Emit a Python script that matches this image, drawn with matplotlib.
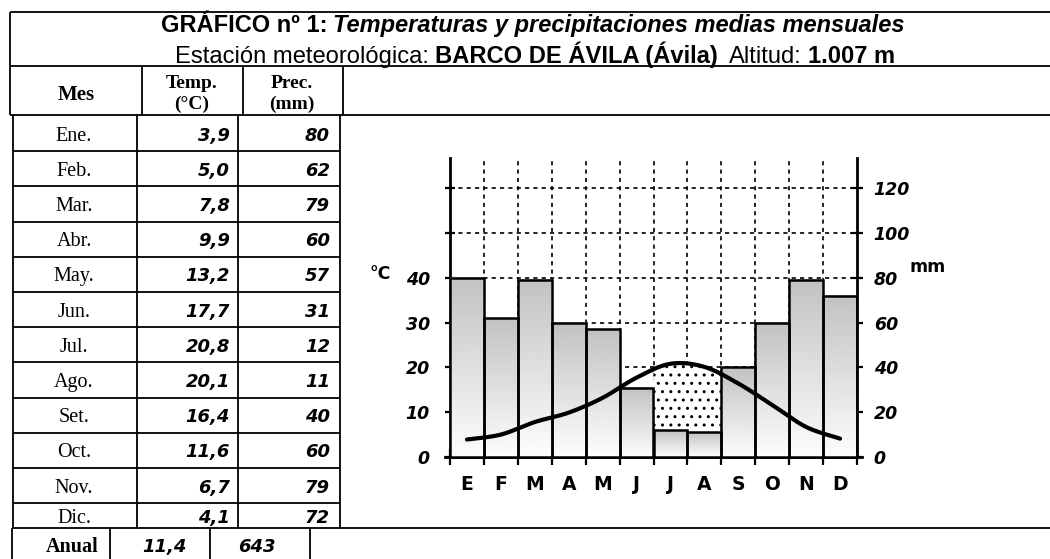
import numpy as np
import matplotlib
matplotlib.use("Agg")
import matplotlib.pyplot as plt
from matplotlib import font_manager

# data
month_names = ["Ene.", "Feb.", "Mar.", "Abr.", "May.", "Jun.",
               "Jul.", "Ago.", "Set.", "Oct.", "Nov.", "Dic."]
month_letters = ["E", "F", "M", "A", "M", "J", "J", "A", "S", "O", "N", "D"]
temp = [3.9, 5.0, 7.8, 9.9, 13.2, 17.7, 20.8, 20.1, 16.4, 11.6, 6.7, 4.1]
prec = [80, 62, 79, 60, 57, 31, 12, 11, 40, 60, 79, 72]
annual_temp = "11,4"
annual_prec = "643"
dry_months = [6, 7]  # dotted (arid) period: Jul, Aug
temp_ticks = [0, 10, 20, 30, 40, 50, 60]
temp_labels = ["0", "10", "20", "30", "40", "", ""]
prec_ticks = [0, 20, 40, 60, 80, 100, 120]

P_PER_C = 2  # Gaussen: 1 degC = 2 mm

title_pieces = [("GRÁFICO nº 1: ", "bold", "normal"),
                ("Temperaturas y precipitaciones medias mensuales", "bold", "italic")]
subtitle_pieces = [("Estación meteorológica: ", "normal", "normal"),
                   ("BARCO DE ÁVILA (Ávila)", "bold", "normal"),
                   ("  Altitud: ", "normal", "normal"),
                   ("1.007 m", "bold", "normal")]

W, H = 1050, 559
fig = plt.figure(figsize=(W / 100, H / 100), dpi=100)
bg = fig.add_axes([0, 0, 1, 1])
bg.set_xlim(0, W)
bg.set_ylim(H, 0)
bg.axis("off")
renderer = fig.canvas.get_renderer()

names = {f.name for f in font_manager.fontManager.ttflist}
TITLE_FONT = "Liberation Sans Narrow" if "Liberation Sans Narrow" in names else "Liberation Sans"
SERIF = "Liberation Serif"
SANS = "DejaVu Sans"
LW = 1.3


def hline(y, x0, x1, lw=LW):
    bg.plot([x0, x1], [y, y], color="black", lw=lw, solid_capstyle="butt")


def vline(x, y0, y1, lw=LW):
    bg.plot([x, x], [y0, y1], color="black", lw=lw, solid_capstyle="butt")


def rich_line(y, pieces, cx, width):
    def place(fs):
        arts, ws = [], []
        space = 0.25 * fs * 100 / 72
        for txt, wt, st in pieces:
            lead = (len(txt) - len(txt.lstrip())) * space
            trail = (len(txt) - len(txt.rstrip())) * space
            a = bg.text(0, y, txt.strip(), fontsize=fs, fontweight=wt, fontstyle=st,
                        family=TITLE_FONT, ha="left", va="baseline")
            w = a.get_window_extent(renderer).width
            arts.append((a, lead))
            ws.append(lead + w + trail)
        return arts, ws

    arts, ws = place(10)
    fs = 10 * width / sum(ws)
    for a, _ in arts:
        a.remove()
    arts, ws = place(fs)
    x = cx - sum(ws) / 2
    for (a, lead), w in zip(arts, ws):
        a.set_x(x + lead)
        x += w


# title block
hline(12, 10, W)
hline(66, 10, W)
hline(115, 10, W)
vline(10, 12, 115)
rich_line(32, title_pieces, 533, 747)
rich_line(63, subtitle_pieces, 535, 720)

# header row
for x in [142, 243, 343]:
    vline(x, 66, 115)
bg.text(76, 100, "Mes", family=SERIF, fontweight="bold", fontsize=15, ha="center", va="baseline")
bg.text(192, 88, "Temp.", family=SERIF, fontweight="bold", fontsize=14, ha="center", va="baseline")
bg.text(192, 109, "(°C)", family=SERIF, fontweight="bold", fontsize=14, ha="center", va="baseline")
bg.text(292, 88, "Prec.", family=SERIF, fontweight="bold", fontsize=14, ha="center", va="baseline")
bg.text(292, 109, "(mm)", family=SERIF, fontweight="bold", fontsize=14, ha="center", va="baseline")

# monthly table
row_edges = [116 + 35.2 * i for i in range(12)] + [528]
for x in [13, 137, 238, 340]:
    vline(x, 115, 528)
for y in row_edges[1:-1]:
    hline(y, 13, 340)
for i, name in enumerate(month_names):
    yc = (row_edges[i] + row_edges[i + 1]) / 2 + 7
    bg.text(74, yc, name, family=SERIF, fontsize=14.5, ha="center", va="baseline")
    bg.text(230, yc, f"{temp[i]:.1f}".replace(".", ","), family=SANS, fontweight="bold",
            fontstyle="italic", fontsize=13, ha="right", va="baseline")
    bg.text(330, yc, str(prec[i]), family=SANS, fontweight="bold",
            fontstyle="italic", fontsize=13, ha="right", va="baseline")

# annual row
hline(528, 12, W)
for x in [12, 110, 210, 310]:
    vline(x, 528, H)
bg.text(72, 552, "Anual", family=SERIF, fontweight="bold", fontsize=14.5, ha="center", va="baseline")
bg.text(164, 552, annual_temp, family=SANS, fontweight="bold", fontstyle="italic",
        fontsize=13, ha="center", va="baseline")
bg.text(257, 552, annual_prec, family=SANS, fontweight="bold", fontstyle="italic",
        fontsize=13, ha="center", va="baseline")

# climograph
ax = fig.add_axes([450 / W, (H - 457) / H, 407 / W, (457 - 158) / H])
ax2 = ax.twinx()
ax.patch.set_visible(False)

for v in range(1, 12):
    ax.axvline(v, color="black", lw=1.2, ls=(0, (2.5, 2.5)), zorder=0)
for h in temp_ticks[1:]:
    ax.axhline(h, color="black", lw=1.2, ls=(0, (2.5, 2.5)), zorder=0)

xc = np.arange(12) + 0.5
bars = ax2.bar(xc, prec, width=1.0, facecolor="none", edgecolor="black", lw=1.8, zorder=3)
grad = np.linspace(0.76, 0.99, 128)[:, None]
for b, p in zip(bars, prec):
    x0 = b.get_x()
    ax2.imshow(grad, extent=(x0, x0 + 1, 0, p), aspect="auto", cmap="gray",
               vmin=0, vmax=1, zorder=2, origin="upper")


def catmull_rom(xp, yp, n=60):
    P = np.column_stack([xp, yp])
    P = np.vstack([P[0], P, P[-1]])
    out = []
    t = np.linspace(0, 1, n, endpoint=False)[:, None]
    for i in range(1, len(P) - 2):
        p0, p1, p2, p3 = P[i - 1], P[i], P[i + 1], P[i + 2]
        out.append(0.5 * (2 * p1 + (-p0 + p2) * t + (2 * p0 - 5 * p1 + 4 * p2 - p3) * t ** 2
                          + (-p0 + 3 * p1 - 3 * p2 + p3) * t ** 3))
    out.append(P[-2][None, :])
    return np.vstack(out)


curve = catmull_rom(xc, temp)
cx, cy = curve[:, 0], curve[:, 1]
idx = np.clip(np.floor(cx).astype(int), 0, 11)
bar_top = np.array(prec, dtype=float)[idx]
mask = np.isin(idx, dry_months) & (cy * P_PER_C > bar_top)
ax2.fill_between(cx, bar_top, cy * P_PER_C, where=mask, interpolate=True,
                 facecolor="white", edgecolor="black", hatch="..", lw=0, zorder=2.5)
ax2.plot(cx, cy, color="black", lw=3, transform=ax.transData, zorder=4,
         solid_capstyle="round")

ax.set_xlim(0, 12)
ax.set_ylim(0, 66.7)
ax2.set_xlim(0, 12)
ax2.set_ylim(0, 66.7 * P_PER_C)

ax.plot([-0.15, 12.15], [0, 0], color="black", lw=2, clip_on=False, zorder=5)

for s in ["top", "right"]:
    ax.spines[s].set_visible(False)
ax2.spines["top"].set_visible(False)
ax2.spines["left"].set_visible(False)
ax2.spines["bottom"].set_visible(False)
ax.spines["left"].set_linewidth(2)
ax.spines["bottom"].set_linewidth(2)
ax2.spines["right"].set_linewidth(2)

ax.set_xticks(range(13))
ax.set_xticklabels([])
ax.tick_params(axis="x", which="major", direction="inout", length=11, width=1.6)
ax.set_xticks(xc, minor=True)
ax.set_xticklabels(month_letters, minor=True, family=SANS, fontweight="bold", fontsize=13.5)
ax.tick_params(axis="x", which="minor", length=0, pad=13)

ax.set_yticks(temp_ticks)
ax.set_yticklabels(temp_labels, family=SANS, fontweight="bold", fontstyle="italic", fontsize=12.5)
ax.tick_params(axis="y", direction="inout", length=7, width=1.6, pad=11)
ax2.set_yticks(prec_ticks)
ax2.set_yticklabels([str(v) for v in prec_ticks], family=SANS, fontweight="bold",
                    fontstyle="italic", fontsize=12.5)
ax2.tick_params(axis="y", direction="inout", length=8, width=1.6, pad=8)

bg.text(380, 274, "°C", family=SANS, fontweight="bold", fontsize=12.5, ha="center", va="center")
bg.text(928, 267, "mm", family=SANS, fontweight="bold", fontsize=12.5, ha="center", va="center")

fig.savefig("out.png", dpi=100)
